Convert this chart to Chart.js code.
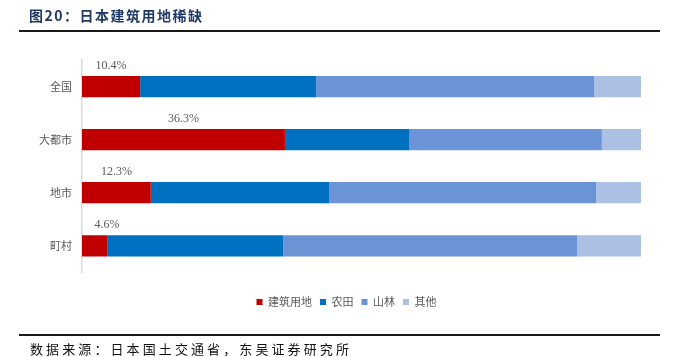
<!DOCTYPE html>
<html>
<head>
<meta charset="utf-8">
<script src="https://cdn.jsdelivr.net/npm/chart.js@4.4.1/dist/chart.umd.min.js"></script>
<style>
  html, body { margin: 0; padding: 0; background: #ffffff; }
  body { width: 686px; height: 357px; position: relative; overflow: hidden; }
  #wrap { position: absolute; left: 0; top: 0; width: 686px; height: 357px; }
  .title { position: absolute; left: 29px; top: 5px; font-family: "Noto Sans CJK SC", sans-serif; font-weight: bold; font-size: 14px; line-height: 20px; color: #1F3864; letter-spacing: 1.5px; white-space: nowrap; }
  .rule { position: absolute; left: 19px; width: 641px; height: 2px; background: #1a1a1a; }
  .source { position: absolute; left: 30px; top: 339px; font-family: "Noto Sans CJK SC", sans-serif; font-size: 13px; line-height: 20px; color: #111; letter-spacing: 3.1px; white-space: nowrap; }
</style>
</head>
<body>
<div id="wrap"><canvas id="c" width="686" height="357"></canvas></div>
<div class="title">图20：日本建筑用地稀缺</div>
<div class="rule" style="top:30px"></div>
<div class="rule" style="top:334px"></div>
<div class="source">数据来源：日本国土交通省，东吴证券研究所</div>
<script>
const categories = ['全国', '大都市', '地市', '町村'];
const seriesNames = ['建筑用地', '农田', '山林', '其他'];
const building = [10.4, 36.3, 12.3, 4.6];
const farmland = [31.5, 22.2, 31.9, 31.4];
const forest = [49.7, 34.5, 47.8, 52.6];
const other = [8.4, 7.0, 8.0, 11.4];
const colors = ['#C00000', '#0070C0', '#6A94D6', '#ACC0E3'];

const labelPlugin = {
  id: 'redLabels',
  afterLayout(chart) {
    const lg = chart.legend;
    if (lg) { lg.left += 26; lg.right += 26; }
  },
  afterDatasetsDraw(chart) {
    const meta = chart.getDatasetMeta(0);
    const ctx = chart.ctx;
    ctx.save();
    ctx.font = '12px "Liberation Serif", serif';
    ctx.fillStyle = '#595959';
    ctx.textAlign = 'center';
    ctx.textBaseline = 'middle';
    meta.data.forEach((el, i) => {
      const p = el.getProps(['x', 'y', 'base', 'height'], true);
      const cx = Math.max((p.x + p.base) / 2, chart.chartArea.left + 25);
      const cy = p.y - p.height / 2 - 10.5;
      ctx.fillText(building[i].toFixed(1) + '%', cx, cy);
    });
    ctx.restore();
  }
};

const data = {
  labels: categories,
  datasets: [building, farmland, forest, other].map((d, i) => ({
    label: seriesNames[i],
    data: d,
    backgroundColor: colors[i],
    borderWidth: 0,
    categoryPercentage: 0.8,
    barPercentage: 0.5
  }))
};

new Chart(document.getElementById('c'), {
  type: 'bar',
  data: data,
  plugins: [labelPlugin],
  options: {
    indexAxis: 'y',
    responsive: false,
    animation: false,
    layout: { padding: { left: 0, right: 45, top: 60, bottom: 39.5 } },
    scales: {
      x: {
        stacked: true,
        min: 0,
        max: 100,
        display: true,
        grid: { display: false, drawTicks: false },
        border: { display: false },
        ticks: { display: false },
        afterFit: s => { s.height = 16.2; }
      },
      y: {
        stacked: true,
        grid: { display: false, drawTicks: false },
        border: { display: true, color: '#d9d9d9', width: 1.5 },
        ticks: {
          padding: 10,
          color: '#595959',
          font: { family: '"Noto Sans CJK SC", sans-serif', size: 11 }
        },
        afterFit: s => { s.width = 82; }
      }
    },
    plugins: {
      tooltip: { enabled: false },
      legend: {
        position: 'bottom',
        labels: {
          boxWidth: 6,
          boxHeight: 6,
          padding: 8,
          color: '#595959',
          font: { family: '"Noto Sans CJK SC", sans-serif', size: 11 }
        }
      }
    }
  }
});
</script>
</body>
</html>
